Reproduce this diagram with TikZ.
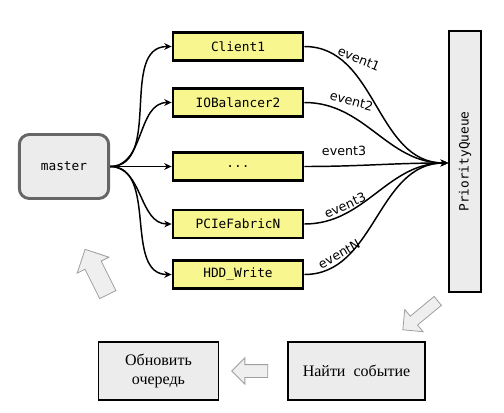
\documentclass[tikz,border=0pt]{standalone}
\usepackage{fontspec}
\setmainfont{Liberation Serif}
\setsansfont{DejaVu Sans}
\setmonofont{DejaVu Sans Mono}
\usetikzlibrary{arrows.meta}
\usetikzlibrary{shapes.arrows}

\definecolor{boxyellow}{HTML}{F7F68F}
\definecolor{boxgray}{HTML}{ECECEC}
\definecolor{bordergray}{HTML}{666666}

\begin{document}
\begin{tikzpicture}[
	x=0.75pt, y=-0.75pt,
  > = {Stealth[length=5.5pt,width=5pt]},
  src/.style = {draw=bordergray,line width=2.2pt,fill=boxgray,rounded corners=7.5pt,minimum width=67pt,minimum height=48pt,font=\ttfamily\fontsize{9.6}{11}\selectfont},
  task/.style = {draw,line width=1.6pt,fill=boxyellow,minimum width=98pt,minimum height=21pt,inner sep=0pt,font=\ttfamily\fontsize{9.6}{11}\selectfont},
  queue/.style = {draw,line width=1.5pt,fill=boxgray,rotate=90,minimum width=196pt,minimum height=24.5pt,inner sep=0pt,font=\ttfamily\fontsize{9.6}{11}\selectfont},
  stage/.style = {draw,line width=1.4pt,fill=boxgray,minimum height=44pt,align=center,font=\fontsize{12}{14.5}\selectfont},
  flow/.style = {->,line width=1.1pt},
  evt/.style = {anchor=south,font=\sffamily\fontsize{9.5}{11}\selectfont},
  hollow/.style = {single arrow,draw=gray!75,line width=0.6pt,fill=boxgray!85,inner xsep=0pt,single arrow head indent=0pt}
  ]
	\useasboundingbox (0,0) rectangle (504,412);

	\node[src] (master) at (64,166.5) {master};

	\node[task] (t1) at (238,46.5) {Client1};
	\node[task] (t2) at (238,102.5) {IOBalancer2};
	\node[task] (t3) at (238,166.5) {...};
	\node[task] (t4) at (238,224) {PCIeFabricN};
	\node[task] (t5) at (238,274.5) {HDD\_Write};

	\node[queue] (pq) at (465,161.5) {PriorityQueue};
	\coordinate (pqin) at (448,163);

	\node[stage,minimum width=103pt] (find) at (356.5,371) {Найти~ событие};
	\node[stage,minimum width=90pt] (upd) at (158.5,371) {Обновить\\очередь};

	\foreach \t in {t1,t2,t3,t4,t5}
		\draw[flow] (master.east) to[out=0,in=180] (\t.west);

	\draw[flow] (t1.east) to[out=0,in=180] node[evt,pos=0.3,rotate=-22,inner sep=6.5pt] {event1} (pqin);
	\draw[flow] (t2.east) to[out=0,in=180] node[evt,pos=0.28,rotate=-15,inner sep=6pt] {event2} (pqin);
	\draw[flow] (t3.east) to[out=0,in=180] node[evt,pos=0.26,inner sep=7pt] {event3} (pqin);
	\draw[flow] (t4.east) to[out=0,in=180] node[evt,pos=0.28,rotate=24,inner sep=1.5pt] {event3} (pqin);
	\draw[flow] (t5.east) to[out=0,in=180] node[evt,pos=0.22,rotate=29,inner sep=1.5pt] {eventN} (pqin);

	\node[hollow,rotate=219.6,minimum height=34pt,inner ysep=4pt,single arrow head extend=6.5pt] (a1) at (422.5,313.5) {};
	\node[hollow,rotate=180,minimum height=27pt,inner ysep=4.5pt,single arrow head extend=5pt] (a2) at (253,371) {};
	\node[hollow,rotate=116.6,minimum height=38pt,inner ysep=6.5pt,single arrow head extend=6.5pt] (a3) at (98.5,276) {};

\end{tikzpicture}
\end{document}
